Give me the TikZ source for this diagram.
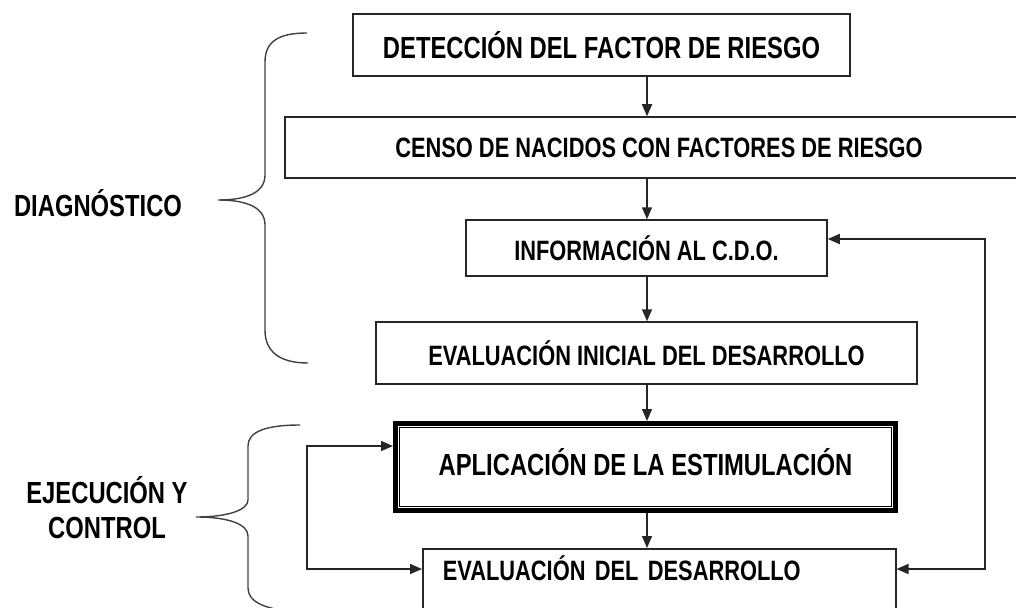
\documentclass[tikz,border=0pt]{standalone}
\usepackage{fontspec}
\setmainfont{Liberation Sans}[FakeStretch=0.78]
\usetikzlibrary{arrows.meta,positioning,calc}
\newcommand{\boxfont}{\fontsize{28}{33}\selectfont\bfseries}
\newcommand{\bigboxfont}{\fontsize{30.5}{35}\selectfont\bfseries}

\begin{document}
\begin{tikzpicture}[x=1pt, y=-1pt,
		block/.style={draw=black!85, line width=1.5pt, inner sep=0pt, align=center, font=\boxfont},
		dblock/.style={draw=black, line width=5pt, inner sep=0pt, align=center, font=\bigboxfont},
		arr/.style={-{Triangle[length=12pt,width=10pt]}, line width=1.5pt, black!85},
		darr/.style={{Triangle[length=12pt,width=10pt]}-{Triangle[length=12pt,width=10pt]}, line width=1.5pt, black!85},
		brace/.style={line width=1.4pt, black!75},
		tag/.style={font=\bigboxfont, align=center}]
	\path[use as bounding box, clip] (0,0) rectangle (1016,607);
	
	\node[block, minimum width=497pt, minimum height=62pt, font=\bigboxfont] (detect) at (601.5,45) {DETECCIÓN DEL FACTOR DE RIESGO};
	\node[block, minimum width=748pt, minimum height=61pt] (censo) at (659,147.5) {CENSO DE NACIDOS CON FACTORES DE RIESGO};
	\node[block, minimum width=361pt, minimum height=56pt] (info) at (646.5,248) {INFORMACIÓN AL C.D.O.};
	\node[block, minimum width=541pt, minimum height=62pt] (evini) at (646.5,353) {EVALUACIÓN INICIAL DEL DESARROLLO};
	\node[dblock, minimum width=500pt, minimum height=87pt, text height=16pt, text depth=0pt] (aplic) at (645.5,467) {APLICACIÓN DE LA ESTIMULACIÓN};
	\draw[line width=1.3pt] ([shift={(6.5pt,6.5pt)}]aplic.south west) rectangle ([shift={(-6.5pt,-6.5pt)}]aplic.north east);
	\node[block, anchor=north west, text width=433pt, inner xsep=20pt, align=left, text height=32pt, text depth=80pt] (evdes) at (422,548) {EVALUACIÓN DEL DESARROLLO};
	
	\node[tag] (diag) at (98,203) {DIAGNÓSTICO};
	\node[tag] (ejec) at (107,508) {EJECUCIÓN Y\\CONTROL};
	
	% main line
	\coordinate (spine) at (647,0);
	\draw[arr] (detect.south -| spine) -- (censo.north -| spine);
	\draw[arr] (censo.south -| spine) -- (info.north -| spine);
	\draw[arr] (info.south -| spine) -- (evini.north -| spine);
	\draw[arr] (evini.south -| spine) -- (aplic.north -| spine);
	\draw[arr] (aplic.south -| spine) -- (evdes.north -| spine);
	
	% loops
	\coordinate (fbtop) at (985,239);
	\coordinate (fbbot) at (985,569);
	\draw[darr] (info.east |- fbtop) -- (fbtop) -- (fbbot) -- (evdes.east |- fbbot);
	\coordinate (lptop) at (307,446);
	\coordinate (lpbot) at (307,569);
	\draw[darr] (aplic.west |- lptop) -- (lptop) -- (lpbot) -- (evdes.west |- lpbot);
	
	% braces
	\draw[brace] (307,33) .. controls (278,33) and (265,42) .. (265,62) -- (265,175) .. controls (265,192) and (248,200) .. (218,200) .. controls (248,200) and (265,208) .. (265,225) -- (265,330) .. controls (265,352) and (280,363) .. (308,363);
	\draw[brace] (300,425) .. controls (265,425) and (248,432) .. (248,446) -- (248,500) .. controls (248,510) and (228,517) .. (196,517) .. controls (228,517) and (248,524) .. (248,536) -- (248,588) .. controls (248,602) and (265,610) .. (300,612);
\end{tikzpicture}
\end{document}
